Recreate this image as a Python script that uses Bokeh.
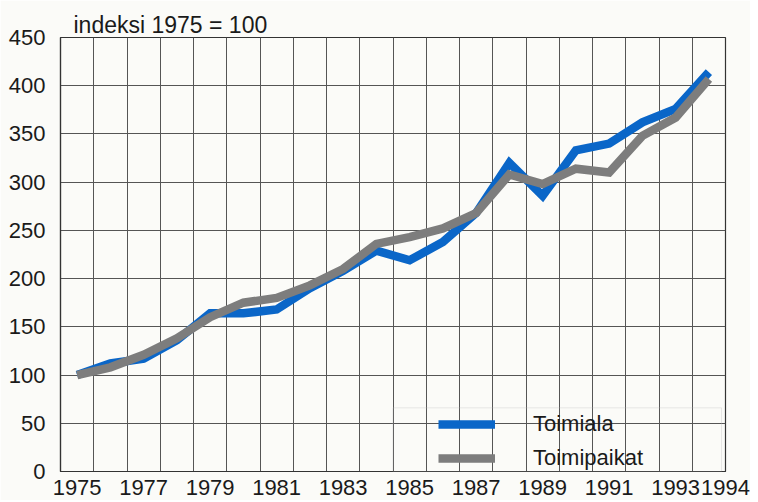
from bokeh.plotting import figure
from bokeh.models import FixedTicker, Legend, LegendItem, BoxAnnotation, Range1d
from bokeh.embed import file_html
from bokeh.resources import INLINE

years = list(range(1975, 1995))
toimiala = [100, 112, 117, 136, 164, 164, 168, 190, 208, 229, 219, 238, 268, 320, 286, 333, 340, 362, 376, 414]
toimipaikat = [100, 108, 121, 138, 160, 175, 180, 193, 210, 236, 243, 252, 268, 308, 298, 314, 310, 348, 367, 407]
x_tick_labels = [1975, 1977, 1979, 1981, 1983, 1985, 1987, 1989, 1991, 1993]
last_label = "1994"
y_ticks = [0, 50, 100, 150, 200, 250, 300, 350, 400, 450]
title_text = "indeksi 1975 = 100"
series_names = ["Toimiala", "Toimipaikat"]

FONT = "Liberation Sans"
FS = "22px"
BG = "#fbfbf8"
TXT = "#1a1a1a"

W, H = 750, 500
p = figure(width=W, height=H, output_backend="svg", toolbar_location=None,
           x_range=Range1d(years[0] - 0.5, years[-1] + 0.5), y_range=Range1d(0, 450),
           min_border_left=60, min_border_right=W - 725, min_border_top=37, min_border_bottom=H - 471,
           background_fill_color=BG, border_fill_color=BG)

p.title.text = title_text
p.title.text_font = FONT
p.title.text_font_size = "23px"
p.title.text_font_style = "normal"
p.title.text_color = TXT
p.title.offset = 13
p.title.standoff = 0

p.outline_line_color = "#333333"
p.outline_line_width = 1.2

# grid
p.xgrid.ticker = FixedTicker(ticks=[y - 0.5 for y in years] + [years[-1] + 0.5])
p.ygrid.ticker = FixedTicker(ticks=y_ticks)
for g in (p.xgrid, p.ygrid):
    g.grid_line_color = "#555555"
    g.grid_line_width = 1
    g.grid_line_alpha = 1

for ax in (p.xaxis, p.yaxis):
    ax.major_tick_line_color = None
    ax.minor_tick_line_color = None
    ax.axis_line_color = "#333333"
    ax.axis_line_width = 1.2
    ax.major_label_text_font = FONT
    ax.major_label_text_font_size = FS
    ax.major_label_text_color = TXT

end_tick = years[-1] + 0.5
p.xaxis.ticker = FixedTicker(ticks=x_tick_labels + [end_tick])
p.xaxis.major_label_overrides = {end_tick: last_label}
p.yaxis.ticker = FixedTicker(ticks=y_ticks)
p.xaxis.major_label_standoff = 2
p.yaxis.major_label_standoff = 9

l1 = p.line(years, toimiala, line_color="#0a66c8", line_width=8.5, line_join="miter")
l2 = p.line(years, toimipaikat, line_color="#7d7d7d", line_width=8.5, line_join="miter")

box = BoxAnnotation(left=1984.5, right=1994.38, bottom=0, top=66,
                    fill_alpha=0, line_color="#b5b5b5", line_width=1)
p.add_layout(box)

legend = Legend(items=[LegendItem(label=series_names[0], renderers=[l1]),
                       LegendItem(label=series_names[1], renderers=[l2])],
                location=(378, 0), orientation="vertical",
                glyph_width=57, glyph_height=24, label_height=24, spacing=8,
                label_standoff=38, padding=0, margin=0,
                border_line_alpha=0, background_fill_alpha=0,
                label_text_font=FONT, label_text_font_size=FS, label_text_color=TXT)
p.add_layout(legend, "center")

open("out.html", "w").write(file_html(p, INLINE))
